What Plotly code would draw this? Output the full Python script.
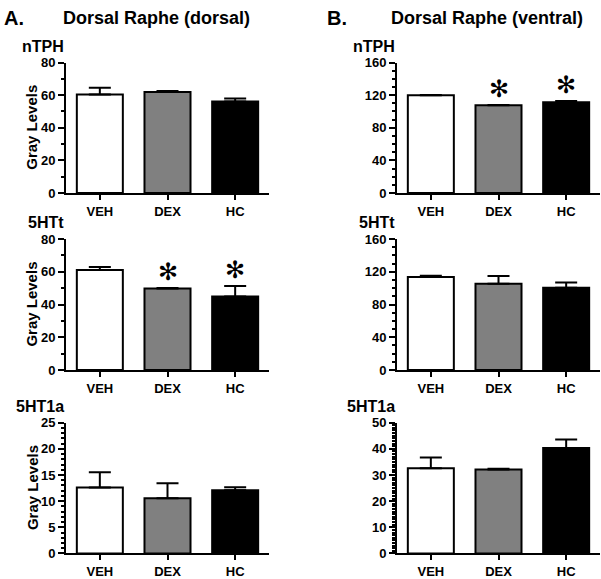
import plotly.graph_objects as go
from plotly.subplots import make_subplots

groups = ["VEH", "DEX", "HC"]

dorsal_ntph = [60.4, 61.9, 56.1]
dorsal_ntph_err = [4.2, 0.6, 1.8]
dorsal_5htt = [61.1, 49.8, 44.9]
dorsal_5htt_err = [1.8, 0.4, 6.5]
dorsal_5ht1a = [12.6, 10.55, 12.1]
dorsal_5ht1a_err = [2.9, 2.85, 0.56]

ventral_ntph = [119.8, 107.6, 111.2]
ventral_ntph_err = [0.5, 0.4, 1.6]
ventral_5htt = [113.6, 105.6, 100.5]
ventral_5htt_err = [1.5, 9.2, 6.5]
ventral_5ht1a = [32.6, 32.1, 40.3]
ventral_5ht1a_err = [4.1, 0.3, 3.3]

sig_dorsal_5htt = [False, True, True]
sig_ventral_ntph = [False, True, True]
no_sig = [False, False, False]

panel_titles = ["Dorsal Raphe (dorsal)", "Dorsal Raphe (ventral)"]
panel_letters = ["A.", "B."]
marker_names = ["nTPH", "5HTt", "5HT1a"]

bar_colors = ["#ffffff", "#808080", "#000000"]
FONT = "Liberation Sans"
W, H = 601, 579

panels = [
    # row, col, means, errs, ymax, major, minor, sig
    (1, 1, dorsal_ntph, dorsal_ntph_err, 80, 20, 10, no_sig),
    (1, 2, ventral_ntph, ventral_ntph_err, 160, 40, 10, sig_ventral_ntph),
    (2, 1, dorsal_5htt, dorsal_5htt_err, 80, 20, 10, sig_dorsal_5htt),
    (2, 2, ventral_5htt, ventral_5htt_err, 160, 40, 10, no_sig),
    (3, 1, dorsal_5ht1a, dorsal_5ht1a_err, 25, 5, 1, no_sig),
    (3, 2, ventral_5ht1a, ventral_5ht1a_err, 50, 10, 1, no_sig),
]

xdoms = {1: [66 / W, 269 / W], 2: [397 / W, 600 / W]}
row_tops = {1: 57, 2: 238.3, 3: 426.7}
row_bottoms = {1: 191, 2: 372.7, 3: 561}

fig = make_subplots(rows=3, cols=2)
annotations = []
tickfont = dict(family=FONT, size=13, color="black", weight="bold")

for idx, (r, c, means, errs, ymax, major, minor, sig) in enumerate(panels):
    fig.add_trace(
        go.Bar(
            x=groups, y=means, width=0.68,
            marker=dict(color=bar_colors, line=dict(color="black", width=2)),
            error_y=dict(type="data", symmetric=False, array=errs,
                         arrayminus=[0] * len(errs), color="black",
                         thickness=2, width=11),
            showlegend=False, hoverinfo="skip",
        ),
        row=r, col=c,
    )
    fig.update_xaxes(
        domain=xdoms[c], type="category", range=[-0.5, 2.5],
        showline=True, linewidth=2, linecolor="black",
        ticks="outside", ticklen=5, tickwidth=2, tickcolor="black",
        tickfont=tickfont, showgrid=False, zeroline=False,
        row=r, col=c,
    )
    fig.update_yaxes(
        domain=[1 - row_bottoms[r] / H, 1 - row_tops[r] / H],
        range=[0, ymax], tickmode="linear", tick0=0, dtick=major,
        showline=True, linewidth=2, linecolor="black",
        ticks="outside", ticklen=6, tickwidth=2, tickcolor="black",
        minor=dict(dtick=minor, tick0=0, ticks="outside", ticklen=3,
                   tickwidth=1.5, tickcolor="black"),
        tickfont=tickfont, showgrid=False, zeroline=False,
        row=r, col=c,
    )
    n = idx + 1
    xref = "x" if n == 1 else f"x{n}"
    yref = "y" if n == 1 else f"y{n}"
    annotations.append(dict(
        text=marker_names[r - 1], xref=f"{xref} domain", yref=f"{yref} domain",
        x=0, y=1, xanchor="right", yanchor="bottom", xshift=0, yshift=6,
        showarrow=False, font=dict(family=FONT, size=16, color="black", weight="bold"),
    ))
    if c == 1:
        annotations.append(dict(
            text="Gray Levels", xref="paper", yref=f"{yref} domain",
            x=32 / W, y=0.5, xanchor="center", yanchor="middle", textangle=-90,
            showarrow=False, font=dict(family=FONT, size=15, color="black", weight="bold"),
        ))
    for i, s in enumerate(sig):
        if s:
            annotations.append(dict(
                text="\u273B", xref=xref, yref=yref, x=groups[i], y=means[i] + errs[i],
                xanchor="center", yanchor="bottom", yshift=0,
                showarrow=False, font=dict(family="DejaVu Sans", size=24, color="black", weight="bold"),
            ))

for k in range(2):
    annotations.append(dict(
        text=panel_letters[k], xref="paper", yref="paper",
        x=(2 if k == 0 else 325) / W, y=1 - 11 / H, xanchor="left", yanchor="middle",
        showarrow=False, font=dict(family=FONT, size=20, color="black", weight="bold"),
    ))
    annotations.append(dict(
        text=panel_titles[k], xref="paper", yref="paper",
        x=(156 if k == 0 else 487) / W, y=1 - 11 / H, xanchor="center", yanchor="middle",
        showarrow=False, font=dict(family=FONT, size=18, color="black", weight="bold"),
    ))

fig.update_layout(
    width=W, height=H, margin=dict(l=0, r=0, t=0, b=0),
    plot_bgcolor="white", paper_bgcolor="white",
    bargap=0.3, annotations=annotations,
)

fig.write_html(
    "out.html",
    config={"displayModeBar": False},
    post_script="document.body.style.margin='0';document.documentElement.style.overflow='hidden';document.body.style.overflow='hidden';",
)
